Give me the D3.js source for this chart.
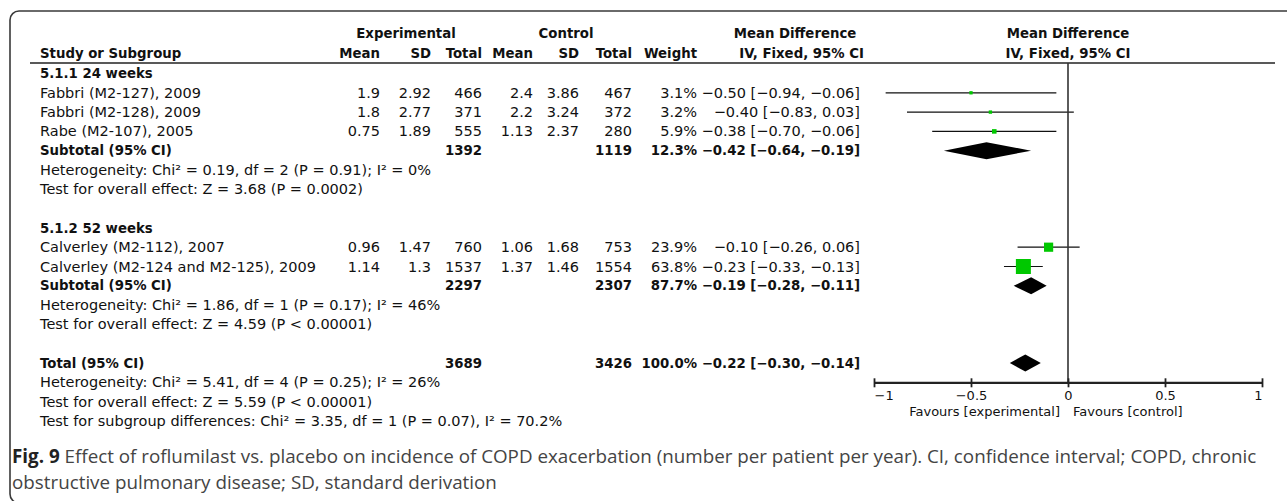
<!DOCTYPE html>
<html>
<head>
<meta charset="utf-8">
<script src="https://cdn.jsdelivr.net/npm/d3@7"></script>
<style>
  html, body { margin: 0; padding: 0; background: #fff; }
  svg { display: block; }
  .t { font-family: "DejaVu Sans", sans-serif; font-size: 14.5px; fill: #111; }
  .t .b, .b { font-weight: bold; font-size: 13.3px; }
  .ax text { font-family: "DejaVu Sans", sans-serif; font-size: 13px; fill: #111; }
  .cap { font-family: "Open Sans", sans-serif; fill: #444; }
</style>
</head>
<body>
<svg id="chart" width="1287" height="501"></svg>
<script>
// ---- Study-level data (roflumilast vs placebo, COPD exacerbations) ----
const studies   = ["Fabbri (M2-127), 2009", "Fabbri (M2-128), 2009", "Rabe (M2-107), 2005",
                   "Calverley (M2-112), 2007", "Calverley (M2-124 and M2-125), 2009"];
const studyGroup = [0, 0, 0, 1, 1];
const expMean  = [1.9, 1.8, 0.75, 0.96, 1.14];
const expSD    = [2.92, 2.77, 1.89, 1.47, 1.3];
const expN     = [466, 371, 555, 760, 1537];
const ctlMean  = [2.4, 2.2, 1.13, 1.06, 1.37];
const ctlSD    = [3.86, 3.24, 2.37, 1.68, 1.46];
const ctlN     = [467, 372, 280, 753, 1554];
const weight   = [3.1, 3.2, 5.9, 23.9, 63.8];
const md       = [-0.50, -0.40, -0.38, -0.10, -0.23];
const ciLow    = [-0.94, -0.83, -0.70, -0.26, -0.33];
const ciHigh   = [-0.06, 0.03, -0.06, 0.06, -0.13];

// ---- Subgroup summaries ----
const subgroups   = ["5.1.1 24 weeks", "5.1.2 52 weeks"];
const subWeight   = [12.3, 87.7];
const subMD       = [-0.42, -0.19];
const subLow      = [-0.64, -0.28];
const subHigh     = [-0.19, -0.11];
const subHetero   = ["Heterogeneity: Chi\u00b2 = 0.19, df = 2 (P = 0.91); I\u00b2 = 0%",
                     "Heterogeneity: Chi\u00b2 = 1.86, df = 1 (P = 0.17); I\u00b2 = 46%"];
const subOverall  = ["Test for overall effect: Z = 3.68 (P = 0.0002)",
                     "Test for overall effect: Z = 4.59 (P < 0.00001)"];

// ---- Pooled total ----
const totalWeight = 100.0;
const totalMD     = -0.22;
const totalLow    = -0.30;
const totalHigh   = -0.14;
const totalNotes  = ["Heterogeneity: Chi\u00b2 = 5.41, df = 4 (P = 0.25); I\u00b2 = 26%",
                     "Test for overall effect: Z = 5.59 (P < 0.00001)",
                     "Test for subgroup differences: Chi\u00b2 = 3.35, df = 1 (P = 0.07), I\u00b2 = 70.2%"];

// ---- Axis ----
const axisTicks    = [-1, -0.5, 0, 0.5, 1];
const favourLabels = ["Favours [experimental]", "Favours [control]"];

const captionBold  = "Fig. 9";
const captionLines = [" Effect of roflumilast vs. placebo on incidence of COPD exacerbation (number per patient per year). CI, confidence interval; COPD, chronic",
                      "obstructive pulmonary disease; SD, standard derivation"];

// ---------------------------------------------------------------
const svg = d3.select("#chart");
const f2 = d3.format(".2f");
const f1 = d3.format(".1f");
const ciText = (m, l, h) => `${f2(m)} [${f2(l)}, ${f2(h)}]`;

// outer frame with rounded corner (runs past the right and bottom edges)
svg.append("rect")
  .attr("x", 10).attr("y", 11).attr("width", 1320).attr("height", 492)
  .attr("rx", 9).attr("fill", "none").attr("stroke", "#3a3a3a").attr("stroke-width", 1.6);

// column anchors (right-aligned numeric columns)
const col = { name: 40, expMean: 380, expSD: 431, expN: 482, ctlMean: 533,
              ctlSD: 579, ctlN: 632, weight: 697, ci: 860 };

// forest plot scale
const x = d3.scaleLinear().domain([-1, 1]).range([874, 1262]);
const sq = d3.scaleSqrt().domain([0, d3.max(weight)]).range([0, 15]);

// ---- build row list ----
const rows = [];
subgroups.forEach((g, gi) => {
  rows.push({ type: "head", label: g });
  studyGroup.forEach((sg, i) => { if (sg === gi) rows.push({ type: "study", i }); });
  rows.push({ type: "sub", gi });
  rows.push({ type: "note", text: subHetero[gi] });
  rows.push({ type: "note", text: subOverall[gi] });
  rows.push({ type: "blank" });
});
rows.push({ type: "total" });
totalNotes.forEach(t => rows.push({ type: "note", text: t }));

const y = d3.scaleLinear().domain([0, 1]).range([73.5, 92.8]);

// ---- header ----
const head = svg.append("g").attr("class", "t b");
const hdr1 = 33, hdr2 = 53;
head.append("text").attr("x", 406).attr("y", hdr1).attr("dy", "0.35em").attr("text-anchor", "middle").text("Experimental");
head.append("text").attr("x", 566).attr("y", hdr1).attr("dy", "0.35em").attr("text-anchor", "middle").text("Control");
head.append("text").attr("x", 795).attr("y", hdr1).attr("dy", "0.35em").attr("text-anchor", "middle").text("Mean Difference");
head.append("text").attr("x", x(0)).attr("y", hdr1).attr("dy", "0.35em").attr("text-anchor", "middle").text("Mean Difference");

head.append("text").attr("x", col.name).attr("y", hdr2).attr("dy", "0.35em").text("Study or Subgroup");
[["expMean", "Mean"], ["expSD", "SD"], ["expN", "Total"], ["ctlMean", "Mean"], ["ctlSD", "SD"],
 ["ctlN", "Total"], ["weight", "Weight"]].forEach(([k, lbl]) => {
  head.append("text").attr("x", col[k]).attr("y", hdr2).attr("dy", "0.35em").attr("text-anchor", "end").text(lbl);
});
head.append("text").attr("x", col.ci + 4).attr("y", hdr2).attr("dy", "0.35em").attr("text-anchor", "end").text("IV, Fixed, 95% CI");
head.append("text").attr("x", x(0)).attr("y", hdr2).attr("dy", "0.35em").attr("text-anchor", "middle").text("IV, Fixed, 95% CI");

svg.append("line").attr("x1", 30).attr("x2", 1275).attr("y1", 63).attr("y2", 63)
  .attr("stroke", "#222").attr("stroke-width", 1.5);

// ---- table rows ----
const body = svg.append("g").attr("class", "t");
function cell(g, xv, yv, txt, anchor, bold) {
  g.append("text").attr("x", xv).attr("y", yv).attr("dy", "0.35em")
    .attr("text-anchor", anchor || "end").attr("class", bold ? "b" : null).text(txt);
}
const marks = svg.append("g");
function diamond(m, l, h, yv) {
  const hh = 8.5;
  marks.append("path")
    .attr("d", `M${x(l)},${yv} L${x(m)},${yv - hh} L${x(h)},${yv} L${x(m)},${yv + hh} Z`)
    .attr("fill", "#000");
}

let axisRowY = null;
rows.forEach((r, k) => {
  const yv = y(k);
  if (r.type === "head") {
    cell(body, col.name, yv, r.label, "start", true);
  } else if (r.type === "study") {
    const i = r.i;
    cell(body, col.name, yv, studies[i], "start");
    cell(body, col.expMean, yv, String(expMean[i]));
    cell(body, col.expSD, yv, String(expSD[i]));
    cell(body, col.expN, yv, String(expN[i]));
    cell(body, col.ctlMean, yv, String(ctlMean[i]));
    cell(body, col.ctlSD, yv, String(ctlSD[i]));
    cell(body, col.ctlN, yv, String(ctlN[i]));
    cell(body, col.weight, yv, f1(weight[i]) + "%");
    cell(body, col.ci, yv, ciText(md[i], ciLow[i], ciHigh[i]));
    marks.append("line").attr("x1", x(ciLow[i])).attr("x2", x(ciHigh[i]))
      .attr("y1", yv).attr("y2", yv).attr("stroke", "#111").attr("stroke-width", 1.2);
    const s = Math.max(3, sq(weight[i]));
    marks.append("rect").attr("x", x(md[i]) - s / 2).attr("y", yv - s / 2)
      .attr("width", s).attr("height", s).attr("fill", "#00c800");
  } else if (r.type === "sub") {
    const gi = r.gi;
    const idx = d3.range(studies.length).filter(i => studyGroup[i] === gi);
    cell(body, col.name, yv, "Subtotal (95% CI)", "start", true);
    cell(body, col.expN, yv, String(d3.sum(idx, i => expN[i])), "end", true);
    cell(body, col.ctlN, yv, String(d3.sum(idx, i => ctlN[i])), "end", true);
    cell(body, col.weight, yv, f1(subWeight[gi]) + "%", "end", true);
    cell(body, col.ci, yv, ciText(subMD[gi], subLow[gi], subHigh[gi]), "end", true);
    diamond(subMD[gi], subLow[gi], subHigh[gi], yv);
  } else if (r.type === "total") {
    cell(body, col.name, yv, "Total (95% CI)", "start", true);
    cell(body, col.expN, yv, String(d3.sum(expN)), "end", true);
    cell(body, col.ctlN, yv, String(d3.sum(ctlN)), "end", true);
    cell(body, col.weight, yv, f1(totalWeight) + "%", "end", true);
    cell(body, col.ci, yv, ciText(totalMD, totalLow, totalHigh), "end", true);
    diamond(totalMD, totalLow, totalHigh, yv);
    axisRowY = y(k + 1);
  } else if (r.type === "note") {
    cell(body, col.name, yv, r.text, "start");
  }
});

// ---- zero line and axis ----
svg.append("line").attr("x1", x(0)).attr("x2", x(0)).attr("y1", 63).attr("y2", axisRowY)
  .attr("stroke", "#333").attr("stroke-width", 1.6);

const axis = d3.axisBottom(x).tickValues(axisTicks).tickSizeInner(5).tickSizeOuter(0)
  .tickPadding(3).tickFormat(d3.format("~g"));
const ax = svg.append("g").attr("class", "ax").attr("transform", `translate(0,${axisRowY})`).call(axis);
ax.select(".domain").attr("stroke", "#222").attr("stroke-width", 2.2);
ax.selectAll(".tick line").attr("y1", -4).attr("y2", 5).attr("stroke", "#222").attr("stroke-width", 1.8);
ax.selectAll(".tick text")
  .attr("text-anchor", d => d === axisTicks[0] ? "start" : d === axisTicks[axisTicks.length - 1] ? "end" : "middle");

const fav = svg.append("g").attr("class", "t").style("font-size", "13px");
fav.append("text").attr("x", x(0) - 8).attr("y", axisRowY + 29).attr("dy", "0.35em")
  .attr("text-anchor", "end").text(favourLabels[0]);
fav.append("text").attr("x", x(0) + 5).attr("y", axisRowY + 29).attr("dy", "0.35em")
  .attr("text-anchor", "start").text(favourLabels[1]);

// ---- caption ----
const cap = svg.append("g").attr("class", "cap");
const c1 = cap.append("text").attr("x", 12).attr("y", 456).attr("dy", "0.35em").style("font-size", "17px");
c1.append("tspan").attr("font-weight", "bold").attr("fill", "#222").text(captionBold);
c1.append("tspan").text(captionLines[0]);
const c2 = cap.append("text").attr("x", 12).attr("y", 482).attr("dy", "0.35em").style("font-size", "17px")
  .text(captionLines[1]);
// size the caption so the first line runs to the right margin
const w1 = c1.node().getComputedTextLength();
const fs = 17 * 1245 / w1;
c1.style("font-size", fs + "px");
c2.style("font-size", fs + "px");
</script>
</body>
</html>
